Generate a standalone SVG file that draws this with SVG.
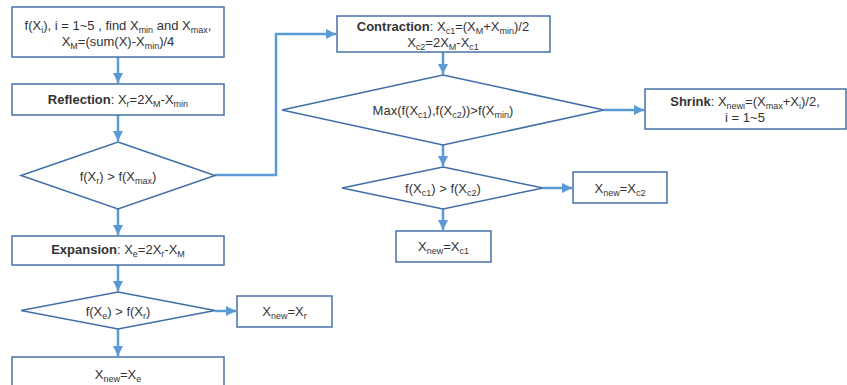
<svg xmlns="http://www.w3.org/2000/svg" width="847" height="385" viewBox="0 0 847 385">
<style>
.box{fill:#fff;stroke:#4472a8;stroke-width:1.5}
.dia{fill:#fff;stroke:#3f6fa6;stroke-width:1.5}
.t{font-family:"Liberation Sans",Arial,sans-serif;font-size:13px;fill:#333;text-anchor:middle}
.s{font-size:9px}
.b{font-weight:bold}
.c{fill:none;stroke:#5b9bd5;stroke-width:2.5}
</style>
<defs>
<marker id="ah" markerUnits="userSpaceOnUse" markerWidth="12" markerHeight="12" refX="10" refY="5" orient="auto">
<path d="M0,0 L10,5 L0,10 Z" fill="#5b9bd5"/>
</marker>
</defs>
<rect width="847" height="385" fill="#fff"/>
<g id="connectors">
<path class="c" d="M118,57 V83" marker-end="url(#ah)"/>
<path class="c" d="M118,115 V141" marker-end="url(#ah)"/>
<path class="c" d="M118,209 V235" marker-end="url(#ah)"/>
<path class="c" d="M118,265 V291" marker-end="url(#ah)"/>
<path class="c" d="M118,329 V356" marker-end="url(#ah)"/>
<path class="c" d="M215,311 H236" marker-end="url(#ah)"/>
<path class="c" d="M215,175 H276 V34 H336" marker-end="url(#ah)"/>
<path class="c" d="M443,52 V74" marker-end="url(#ah)"/>
<path class="c" d="M604,110 H644" marker-end="url(#ah)"/>
<path class="c" d="M443,145 V166" marker-end="url(#ah)"/>
<path class="c" d="M543,188 H572" marker-end="url(#ah)"/>
<path class="c" d="M443,209 V230" marker-end="url(#ah)"/>
</g>
<g id="init">
<rect class="box" x="12" y="7" width="212" height="50"/>
<text class="t" x="118" y="30">f(X<tspan class="s" dy="3">i</tspan><tspan dy="-3">), i = 1~5 , find X</tspan><tspan class="s" dy="3">min</tspan><tspan dy="-3"> and X</tspan><tspan class="s" dy="3">max</tspan><tspan dy="-3">,</tspan></text>
<text class="t" x="118" y="46">X<tspan class="s" dy="3">M</tspan><tspan dy="-3">=(sum(X)-X</tspan><tspan class="s" dy="3">min</tspan><tspan dy="-3">)/4</tspan></text>
</g>
<g id="reflection">
<rect class="box" x="12" y="84" width="212" height="31"/>
<text class="t" x="118" y="104"><tspan class="b">Reflection</tspan>: X<tspan class="s" dy="3">r</tspan><tspan dy="-3">=2X</tspan><tspan class="s" dy="3">M</tspan><tspan dy="-3">-X</tspan><tspan class="s" dy="3">min</tspan></text>
</g>
<g id="dec1">
<polygon class="dia" points="118,142 215,175.5 118,209 21,175.5"/>
<text class="t" x="118" y="181">f(X<tspan class="s" dy="3">r</tspan><tspan dy="-3">) &gt; f(X</tspan><tspan class="s" dy="3">max</tspan><tspan dy="-3">)</tspan></text>
</g>
<g id="expansion">
<rect class="box" x="12" y="236" width="212" height="29"/>
<text class="t" x="118" y="254"><tspan class="b">Expansion</tspan>: X<tspan class="s" dy="3">e</tspan><tspan dy="-3">=2X</tspan><tspan class="s" dy="3">r</tspan><tspan dy="-3">-X</tspan><tspan class="s" dy="3">M</tspan></text>
</g>
<g id="dec2">
<polygon class="dia" points="118,292 215,310.5 118,329 21,310.5"/>
<text class="t" x="118" y="316">f(X<tspan class="s" dy="3">e</tspan><tspan dy="-3">) &gt; f(X</tspan><tspan class="s" dy="3">r</tspan><tspan dy="-3">)</tspan></text>
</g>
<g id="newr">
<rect class="box" x="237" y="296" width="95" height="31"/>
<text class="t" x="284.5" y="316">X<tspan class="s" dy="3">new</tspan><tspan dy="-3">=X</tspan><tspan class="s" dy="3">r</tspan></text>
</g>
<g id="newe">
<rect class="box" x="12" y="357" width="212" height="30"/>
<text class="t" x="118" y="379">X<tspan class="s" dy="3">new</tspan><tspan dy="-3">=X</tspan><tspan class="s" dy="3">e</tspan></text>
</g>
<g id="contraction">
<rect class="box" x="337" y="16" width="213" height="36"/>
<text class="t" x="443" y="31"><tspan class="b">Contraction</tspan>: X<tspan class="s" dy="3">c1</tspan><tspan dy="-3">=(X</tspan><tspan class="s" dy="3">M</tspan><tspan dy="-3">+X</tspan><tspan class="s" dy="3">min</tspan><tspan dy="-3">)/2</tspan></text>
<text class="t" x="443" y="47">X<tspan class="s" dy="3">c2</tspan><tspan dy="-3">=2X</tspan><tspan class="s" dy="3">M</tspan><tspan dy="-3">-X</tspan><tspan class="s" dy="3">c1</tspan></text>
</g>
<g id="dec3">
<polygon class="dia" points="443,75 604,110 443,145 282,110"/>
<text class="t" x="443" y="115">Max(f(X<tspan class="s" dy="3">c1</tspan><tspan dy="-3">),f(X</tspan><tspan class="s" dy="3">c2</tspan><tspan dy="-3">))&gt;f(X</tspan><tspan class="s" dy="3">min</tspan><tspan dy="-3">)</tspan></text>
</g>
<g id="shrink">
<rect class="box" x="645" y="89" width="201" height="40"/>
<text class="t" x="745" y="106"><tspan class="b">Shrink</tspan>: X<tspan class="s" dy="3">newi</tspan><tspan dy="-3">=(X</tspan><tspan class="s" dy="3">max</tspan><tspan dy="-3">+X</tspan><tspan class="s" dy="3">i</tspan><tspan dy="-3">)/2,</tspan></text>
<text class="t" x="745" y="122">i = 1~5</text>
</g>
<g id="dec4">
<polygon class="dia" points="443,167 543,188 443,209 342,188"/>
<text class="t" x="443" y="193">f(X<tspan class="s" dy="3">c1</tspan><tspan dy="-3">) &gt; f(X</tspan><tspan class="s" dy="3">c2</tspan><tspan dy="-3">)</tspan></text>
</g>
<g id="newc2">
<rect class="box" x="573" y="172" width="94" height="31"/>
<text class="t" x="620" y="193">X<tspan class="s" dy="3">new</tspan><tspan dy="-3">=X</tspan><tspan class="s" dy="3">c2</tspan></text>
</g>
<g id="newc1">
<rect class="box" x="396" y="231" width="95" height="31"/>
<text class="t" x="443.5" y="251">X<tspan class="s" dy="3">new</tspan><tspan dy="-3">=X</tspan><tspan class="s" dy="3">c1</tspan></text>
</g>
</svg>
